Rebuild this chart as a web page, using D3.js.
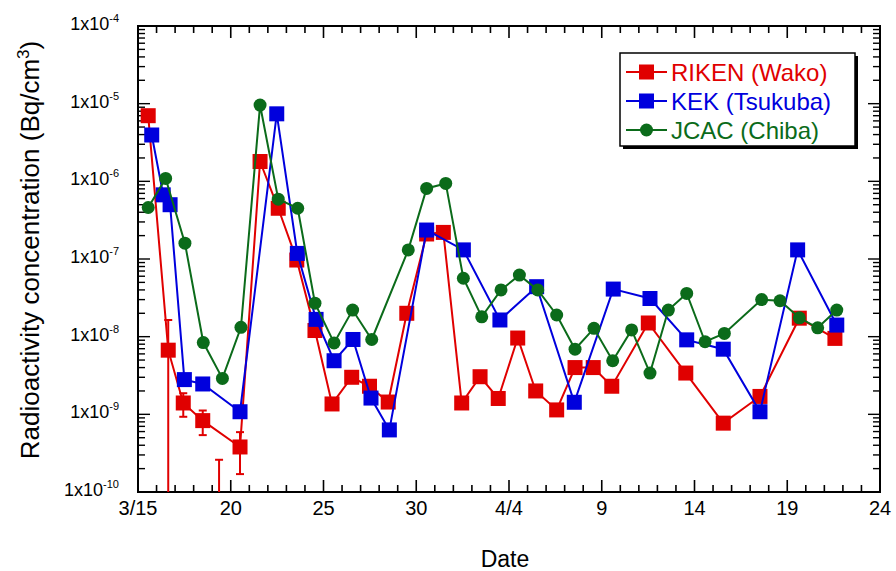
<!DOCTYPE html>
<html>
<head>
<meta charset="utf-8">
<script src="https://cdn.jsdelivr.net/npm/d3@7"></script>
<style>
  body { margin: 0; background: #fff; }
  svg { display: block; font-family: "Liberation Sans", Arial, sans-serif; }
</style>
</head>
<body>
<svg width="896" height="571"></svg>
<script>
// days counted from 3/15, values in Bq/cm3
const xTickDays = [0, 5, 10, 15, 20, 25, 30, 35, 40];
const xTickLabels = ["3/15", "20", "25", "30", "4/4", "9", "14", "19", "24"];
const yExponents = [-4, -5, -6, -7, -8, -9, -10];

const rikenDays = [0.55, 1.63, 2.44, 3.49, 5.5, 6.58, 7.56, 8.56, 9.54, 10.46, 11.52, 12.48, 13.49, 14.49, 15.56, 16.46, 17.45, 18.44, 19.42, 20.47, 21.44, 22.57, 23.56, 24.54, 25.54, 27.51, 29.53, 31.55, 33.53, 35.65, 37.57];
const rikenValues = [7.0e-6, 6.7e-9, 1.4e-9, 8.3e-10, 3.8e-10, 1.8e-6, 4.5e-7, 9.7e-8, 1.2e-8, 1.36e-9, 3.0e-9, 2.3e-9, 1.44e-9, 2.0e-8, 2.1e-7, 2.2e-7, 1.4e-9, 3.05e-9, 1.6e-9, 9.6e-9, 2.0e-9, 1.14e-9, 4.0e-9, 4.0e-9, 2.3e-9, 1.5e-8, 3.4e-9, 7.7e-10, 1.7e-9, 1.73e-8, 9.5e-9];
const rikenErrors = [null, 9.7e-9, 4.7e-10, 2.9e-10, 2.1e-10, null, null, null, null, null, null, null, null, null, null, null, null, null, null, null, null, null, null, null, null, null, null, null, null, null, null];
// sample below the axis, only its error bar shows
const rikenOffDays = [4.37];
const rikenOffValues = [5e-11];
const rikenOffErrors = [2.1e-10];

const kekDays = [0.74, 1.36, 1.73, 2.5, 3.49, 5.5, 7.48, 8.59, 9.6, 10.57, 11.59, 12.56, 13.55, 15.56, 17.54, 19.51, 21.49, 23.52, 25.62, 27.6, 29.58, 31.55, 33.53, 35.56, 37.67];
const kekValues = [3.95e-6, 6.7e-7, 5.0e-7, 2.8e-9, 2.46e-9, 1.08e-9, 7.4e-6, 1.18e-7, 1.67e-8, 4.9e-9, 9.2e-9, 1.62e-9, 6.3e-10, 2.36e-7, 1.31e-7, 1.64e-8, 4.4e-8, 1.43e-9, 4.1e-8, 3.1e-8, 9.1e-9, 6.9e-9, 1.08e-9, 1.31e-7, 1.41e-8];

const jcacDays = [0.55, 1.49, 2.53, 3.52, 4.55, 5.55, 6.58, 7.56, 8.61, 9.54, 10.57, 11.57, 12.6, 14.57, 15.56, 16.59, 17.54, 18.53, 19.57, 20.56, 21.55, 22.57, 23.56, 24.58, 25.59, 26.61, 27.6, 28.59, 29.58, 30.57, 31.61, 33.62, 34.61, 35.65, 36.64, 37.67];
const jcacValues = [4.6e-7, 1.09e-6, 1.6e-7, 8.4e-9, 2.9e-9, 1.32e-8, 9.6e-6, 5.9e-7, 4.5e-7, 2.7e-8, 8.3e-9, 2.2e-8, 9.2e-9, 1.31e-7, 8.1e-7, 9.4e-7, 5.65e-8, 1.8e-8, 4.0e-8, 6.2e-8, 4.0e-8, 1.9e-8, 6.9e-9, 1.28e-8, 4.9e-9, 1.22e-8, 3.4e-9, 2.2e-8, 3.6e-8, 8.6e-9, 1.1e-8, 3.0e-8, 2.9e-8, 1.75e-8, 1.3e-8, 2.2e-8];

const seriesNames = ["RIKEN (Wako)", "KEK (Tsukuba)", "JCAC (Chiba)"];
const seriesColors = ["#e00000", "#0000dd", "#0b6b1a"];

const plotLeft = 138, plotRight = 880, plotTop = 26, plotBottom = 492;

const svg = d3.select('svg');

const xScale = d3.scaleLinear().domain([0, 40]).range([plotLeft, plotRight]);
const yScale = d3.scaleLog().domain([1e-4, 1e-10]).range([plotTop, plotBottom]);

svg.append('clipPath').attr('id', 'plot')
  .append('rect')
  .attr('x', plotLeft).attr('y', plotTop)
  .attr('width', plotRight - plotLeft).attr('height', plotBottom - plotTop);

//x ticks: minor every day, major every 5 days, on bottom and top
const dayTicks = d3.range(0, 41);
function xAxisTicks(y0, dir) {
  svg.append('g').selectAll('line')
    .data(dayTicks)
    .join('line')
    .attr('x1', d => xScale(d)).attr('x2', d => xScale(d))
    .attr('y1', y0)
    .attr('y2', d => y0 + dir * (d % 5 === 0 ? 12 : 7))
    .attr('stroke', '#000').attr('stroke-width', 1.6);
}
xAxisTicks(plotBottom, -1);
xAxisTicks(plotTop, 1);

//y ticks: decades and 2..9 minor, left and right
const logTicks = [];
for (let e = -10; e < -4; e++) {
  for (let m = 1; m < 10; m++) logTicks.push({ v: m * Math.pow(10, e), major: m === 1 });
}
logTicks.push({ v: 1e-4, major: true });
function yAxisTicks(x0, dir) {
  svg.append('g').selectAll('line')
    .data(logTicks)
    .join('line')
    .attr('x1', x0)
    .attr('x2', d => x0 + dir * (d.major ? 12 : 7))
    .attr('y1', d => yScale(d.v)).attr('y2', d => yScale(d.v))
    .attr('stroke', '#000').attr('stroke-width', 1.4);
}
yAxisTicks(plotLeft, 1);
yAxisTicks(plotRight, -1);

//x tick labels
svg.append('g').selectAll('text')
  .data(xTickDays)
  .join('text')
  .attr('x', d => xScale(d))
  .attr('y', 515)
  .attr('text-anchor', 'middle')
  .style('font-size', '20px')
  .text((d, i) => xTickLabels[i]);

//y tick labels 1x10^n
const yLab = svg.append('g').selectAll('text')
  .data(yExponents)
  .join('text')
  .attr('x', 119)
  .attr('y', d => yScale(Math.pow(10, d)) + 4)
  .attr('text-anchor', 'end')
  .style('font-size', '18px');
yLab.append('tspan').text('1x10');
yLab.append('tspan')
  .attr('dy', -8)
  .style('font-size', '11px')
  .text(d => d);

//axis titles
svg.append('text')
  .attr('x', 505).attr('y', 567)
  .attr('text-anchor', 'middle')
  .style('font-size', '23px')
  .text('Date');

const yTitle = svg.append('text')
  .attr('transform', 'translate(39,250) rotate(-90)')
  .attr('text-anchor', 'middle')
  .style('font-size', '26px');
yTitle.append('tspan').text('Radioactivity concentration (Bq/cm');
yTitle.append('tspan').attr('dy', -10).style('font-size', '17px').text('3');
yTitle.append('tspan').attr('dy', 10).text(')');

//plot frame
svg.append('rect')
  .attr('x', plotLeft).attr('y', plotTop)
  .attr('width', plotRight - plotLeft).attr('height', plotBottom - plotTop)
  .attr('fill', 'none').attr('stroke', '#000').attr('stroke-width', 2);

const plot = svg.append('g').attr('clip-path', 'url(#plot)');

const line = d3.line().x(d => xScale(d.day)).y(d => yScale(d.value));

function makeSeries(days, values, errors) {
  return days.map((d, i) => ({ day: d, value: values[i], err: errors ? errors[i] : null }));
}

const riken = makeSeries(rikenDays, rikenValues, rikenErrors);
const rikenOff = makeSeries(rikenOffDays, rikenOffValues, rikenOffErrors);
const kek = makeSeries(kekDays, kekValues);
const jcac = makeSeries(jcacDays, jcacValues);

//error bars for RIKEN
const errData = riken.concat(rikenOff).filter(d => d.err);
const errG = plot.append('g').attr('stroke', seriesColors[0]).attr('stroke-width', 2);
errData.forEach(d => {
  const yTop = yScale(d.value + d.err);
  const yBot = yScale(Math.max(d.value - d.err, 1e-12));
  const x = xScale(d.day);
  errG.append('line').attr('x1', x).attr('x2', x).attr('y1', yTop).attr('y2', yBot);
  errG.append('line').attr('x1', x - 4).attr('x2', x + 4).attr('y1', yTop).attr('y2', yTop);
  errG.append('line').attr('x1', x - 4).attr('x2', x + 4).attr('y1', yBot).attr('y2', yBot);
});

function drawSeries(data, color, shape) {
  plot.append('path')
    .datum(data)
    .attr('d', line)
    .attr('fill', 'none')
    .attr('stroke', color)
    .attr('stroke-width', 2);
  const pts = plot.append('g').selectAll('.pt')
    .data(data)
    .join(shape === 'square' ? 'rect' : 'circle')
    .attr('class', 'pt')
    .attr('fill', color);
  if (shape === 'square') {
    pts.attr('x', d => xScale(d.day) - 7.5).attr('y', d => yScale(d.value) - 7.5)
      .attr('width', 15).attr('height', 15);
  } else {
    pts.attr('cx', d => xScale(d.day)).attr('cy', d => yScale(d.value)).attr('r', 6.5);
  }
}

drawSeries(riken, seriesColors[0], 'square');
plot.append('g').selectAll('rect')
  .data(rikenOff)
  .join('rect')
  .attr('x', d => xScale(d.day) - 7.5).attr('y', d => yScale(d.value) - 7.5)
  .attr('width', 15).attr('height', 15)
  .attr('fill', seriesColors[0]);
drawSeries(kek, seriesColors[1], 'square');
drawSeries(jcac, seriesColors[2], 'circle');

//legend with shadow
const lg = svg.append('g');
lg.append('rect').attr('x', 623).attr('y', 56).attr('width', 235).attr('height', 93).attr('fill', '#000');
lg.append('rect').attr('x', 620).attr('y', 53).attr('width', 235).attr('height', 93)
  .attr('fill', '#fff').attr('stroke', '#000').attr('stroke-width', 1.5);

const shapes = ['square', 'square', 'circle'];
seriesNames.forEach((name, i) => {
  const cy = 72 + i * 29;
  lg.append('line').attr('x1', 626).attr('x2', 667).attr('y1', cy).attr('y2', cy)
    .attr('stroke', seriesColors[i]).attr('stroke-width', 2);
  if (shapes[i] === 'square') {
    lg.append('rect').attr('x', 639).attr('y', cy - 7.5).attr('width', 15).attr('height', 15)
      .attr('fill', seriesColors[i]);
  } else {
    lg.append('circle').attr('cx', 646.5).attr('cy', cy).attr('r', 6.5).attr('fill', seriesColors[i]);
  }
  lg.append('text')
    .attr('x', 671).attr('y', cy + 8.5)
    .style('font-size', '24px')
    .attr('fill', seriesColors[i])
    .text(name);
});
</script>
</body>
</html>
